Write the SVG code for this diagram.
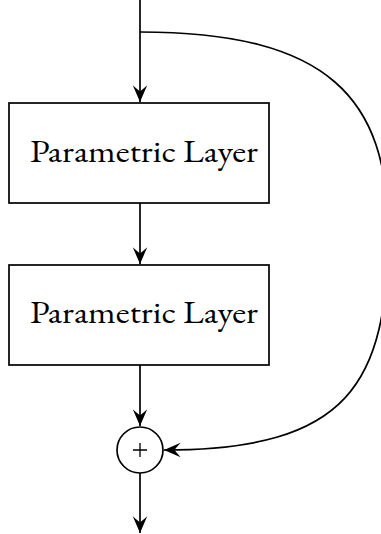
<svg xmlns="http://www.w3.org/2000/svg" width="381" height="534" viewBox="0 0 381 534">
<style>
.box{fill:#fff;stroke:#000;stroke-width:1.7}
.lbl{font-family:"EB Garamond","Liberation Serif",serif;font-size:32px;fill:#000;text-anchor:middle}
.edge{fill:none;stroke:#000;stroke-width:1.7}
</style>
<defs>
<marker id="arr" markerUnits="userSpaceOnUse" markerWidth="20" markerHeight="20" viewBox="-16 -8 18 16" refX="0" refY="0" orient="auto">
<path d="M0,0 L-15,-6.5 Q-10,-1 -9.5,0 Q-10,1 -15,6.5 Z" fill="#000"/>
</marker>
</defs>
<g id="connectors">
<path class="edge" d="M140,0 V102" marker-end="url(#arr)"/>
<path class="edge" d="M140,203 V264" marker-end="url(#arr)"/>
<path class="edge" d="M140,365 V426" marker-end="url(#arr)"/>
<path class="edge" d="M140,473 V533" marker-end="url(#arr)"/>
<path class="edge" d="M140,32 C329,32 388,99 388,231 C388,384 348,450 164,450" marker-end="url(#arr)"/>
</g>
<g id="layer1">
<rect class="box" x="9" y="103" width="260" height="100"/>
<text class="lbl" x="144" y="162" textLength="228" lengthAdjust="spacingAndGlyphs">Parametric Layer</text>
</g>
<g id="layer2">
<rect class="box" x="9" y="265" width="260" height="100"/>
<text class="lbl" x="144" y="323" textLength="228" lengthAdjust="spacingAndGlyphs">Parametric Layer</text>
</g>
<g id="sum">
<circle cx="140" cy="450" r="23" fill="#fff" stroke="#000" stroke-width="1.7"/>
<path d="M133,450 H147 M140,443 V457" stroke="#000" stroke-width="1.3"/>
</g>
</svg>
